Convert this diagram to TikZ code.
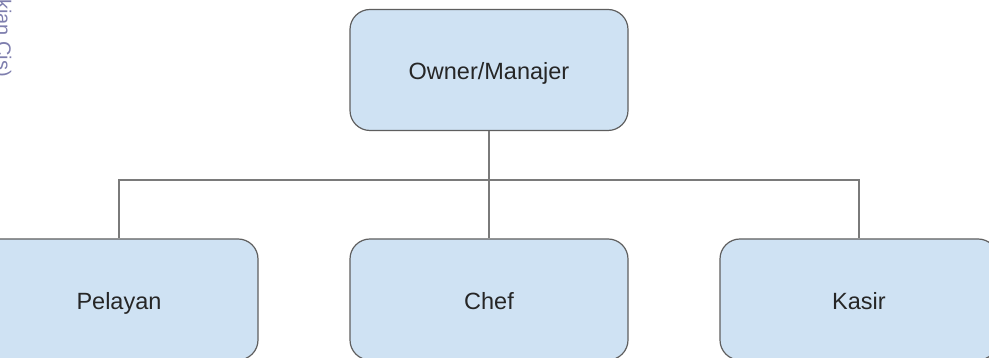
\documentclass[tikz,border=0pt]{standalone}
\usepackage{fontspec}
\setmainfont{Liberation Sans}
\definecolor{boxfill}{HTML}{CFE2F3}
\definecolor{boxline}{HTML}{5F5F5F}
\definecolor{wireline}{HTML}{7A7A7A}
\definecolor{marktext}{HTML}{7E7EAE}
\begin{document}
\begin{tikzpicture}[x=1pt,y=1pt,
  orgbox/.style={draw=boxline, line width=1.2pt, fill=boxfill, rounded corners=20pt,
    minimum width=278pt, minimum height=121pt, inner sep=0pt,
    text height=23pt, text depth=3pt,
    font=\fontsize{23.5}{28}\selectfont, text=black!85},
  wire/.style={draw=wireline, line width=1.3pt}]
\useasboundingbox (0,0) rectangle (989,358);
\clip (0,0) rectangle (989,358);
\fill[white] (0,0) rectangle (989,358);

% chart boxes
\node[orgbox] (own) at (489,288) {Owner/Manajer};
\node[orgbox] (pel) at (119,58.5) {Pelayan};
\node[orgbox] (chef) at (489,58.5) {Chef};
\node[orgbox] (kas) at (859,58.5) {Kasir};

% branch point of the connectors
\coordinate (bus) at (489,178);
\draw[wire] (own.south) -- (bus);
\draw[wire] (bus) -| (pel.north);
\draw[wire] (bus) -- (chef.north);
\draw[wire] (bus) -| (kas.north);

% side caption along the left edge
\node[rotate=-90, text=marktext, font=\fontsize{20}{24}\selectfont, anchor=base] (side) at (-3,320) {kian Cis)};
\end{tikzpicture}
\end{document}
